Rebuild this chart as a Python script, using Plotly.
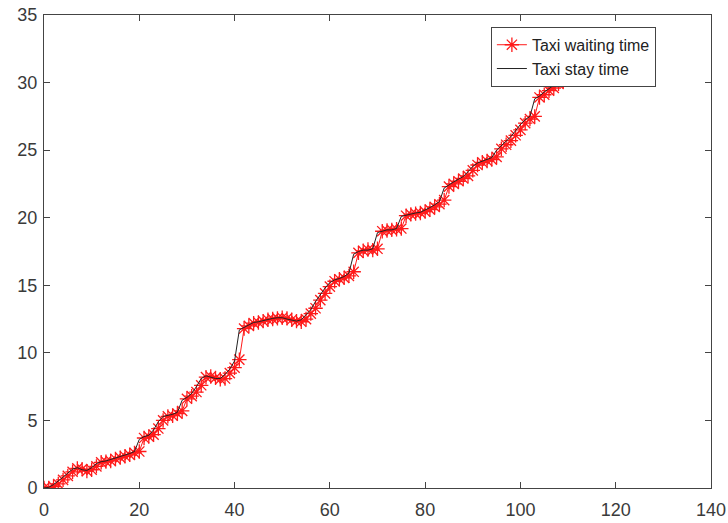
import plotly.graph_objects as go

x_vals = list(range(0, 111))

waiting_time = [
    0.0, 0.0, 0.1, 0.3, 0.6, 0.9, 1.2, 1.45, 1.4, 1.25,
    1.35, 1.6, 1.9, 1.95, 2.0, 2.15, 2.25, 2.35, 2.45, 2.6,
    2.7, 3.7, 3.8, 3.95, 4.4, 5.0, 5.3, 5.35, 5.5, 5.7,
    6.6, 6.8, 7.1, 7.6, 8.2, 8.25, 8.15, 8.05, 8.1, 8.5,
    8.9, 9.5, 11.8, 12.0, 12.2, 12.25, 12.35, 12.45, 12.5, 12.55,
    12.6, 12.55, 12.45, 12.35, 12.3, 12.5, 12.9, 13.3, 13.9, 14.4,
    14.9, 15.3, 15.45, 15.55, 15.7, 16.0, 17.4, 17.55, 17.65, 17.6,
    17.7, 19.0, 19.05, 19.1, 19.15, 19.2, 20.15, 20.25, 20.3, 20.35,
    20.45, 20.6, 20.8, 21.0, 21.3, 22.3, 22.5, 22.7, 22.9, 23.1,
    23.5, 23.9, 24.1, 24.2, 24.3, 24.5, 25.1, 25.4, 25.7, 26.1,
    26.5, 27.0, 27.3, 27.5, 28.9, 29.1, 29.4, 29.6, 29.9, 30.1,
    30.3,
]

stay_time = [
    0.0, 0.05, 0.25, 0.5, 0.8, 1.1, 1.4, 1.5, 1.35, 1.3,
    1.5, 1.8, 1.95, 2.0, 2.1, 2.2, 2.3, 2.4, 2.55, 2.7,
    3.6, 3.8, 3.9, 4.3, 4.9, 5.3, 5.35, 5.45, 5.6, 6.5,
    6.7, 7.0, 7.5, 8.1, 8.3, 8.2, 8.1, 8.1, 8.4, 8.8,
    9.4, 11.7, 11.9, 12.1, 12.25, 12.3, 12.4, 12.5, 12.55, 12.6,
    12.6, 12.5, 12.4, 12.35, 12.45, 12.8, 13.2, 13.8, 14.3, 14.8,
    15.2, 15.4, 15.5, 15.65, 15.9, 17.3, 17.5, 17.6, 17.6, 17.7,
    18.9, 19.0, 19.1, 19.1, 19.2, 20.1, 20.2, 20.3, 20.35, 20.4,
    20.55, 20.75, 20.95, 21.2, 22.2, 22.45, 22.65, 22.85, 23.05, 23.4,
    23.8, 24.05, 24.2, 24.3, 24.45, 25.0, 25.35, 25.65, 26.0, 26.45,
    26.9, 27.25, 27.5, 28.8, 29.0, 29.3, 29.55, 29.85, 30.05, 30.25,
    30.3,
]

x_ticks = [0, 20, 40, 60, 80, 100, 120, 140]
y_ticks = [0, 5, 10, 15, 20, 25, 30, 35]

fig = go.Figure()
fig.add_trace(go.Scatter(
    x=x_vals, y=waiting_time, mode="lines+markers", name="Taxi waiting time",
    line=dict(color="#ff1a1a", width=1),
    marker=dict(symbol="asterisk-open", size=12, color="#ff1a1a",
                line=dict(color="#ff1a1a", width=1.3)),
))
fig.add_trace(go.Scatter(
    x=x_vals, y=stay_time, mode="lines", name="Taxi stay time",
    line=dict(color="#222222", width=1),
))

axis_common = dict(
    showgrid=False, zeroline=False, showline=True, linecolor="#444444", linewidth=1,
    mirror="ticks", ticks="inside", ticklen=6, tickcolor="#444444",
    automargin=False,
    tickfont=dict(family="Liberation Sans, Arial, sans-serif", size=18, color="#3a3a3a"),
)

fig.update_xaxes(range=[0, 140], tickvals=x_ticks, ticklabelstandoff=5, **axis_common)
fig.update_yaxes(range=[0, 35], tickvals=y_ticks, ticklabelstandoff=2, **axis_common)

fig.update_layout(
    width=728, height=523,
    margin=dict(l=44, r=17, t=15, b=35),
    paper_bgcolor="white", plot_bgcolor="white",
    showlegend=True,
    legend=dict(
        x=0.67, y=0.975, xanchor="left", yanchor="top",
        bgcolor="white", bordercolor="#444444", borderwidth=1,
        font=dict(family="Liberation Sans, Arial, sans-serif", size=16, color="#222222"),
        tracegroupgap=0,
    ),
)

fig.write_html("out.html", config={"displayModeBar": False},
               post_script="document.body.style.margin='0';")
